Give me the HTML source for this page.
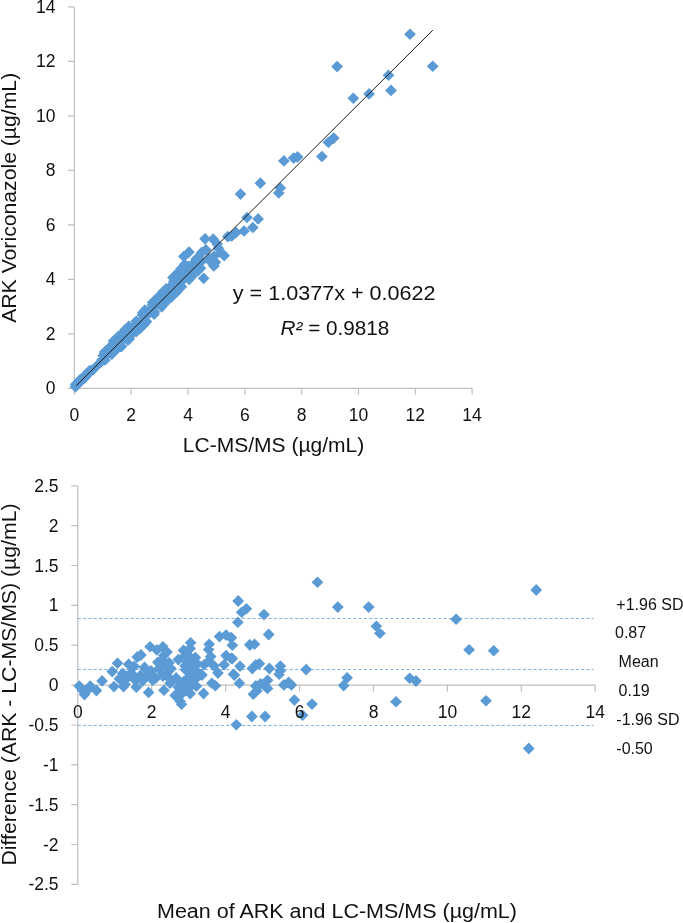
<!DOCTYPE html>
<html><head><meta charset="utf-8"><title>Chart</title>
<style>html,body{margin:0;padding:0;background:#fff;}body{width:683px;height:923px;overflow:hidden;font-family:"Liberation Sans",sans-serif;}</style>
</head><body>
<svg width="683" height="923" viewBox="0 0 683 923" style="display:block">
<rect width="683" height="923" fill="#fff"/>
<g style="opacity:0.999">
<path d="M74.4 6.9V388.3H472.1M67.9 388.3H74.4M74.4 388.3V394.8M67.9 333.8H74.4M131.2 388.3V394.8M67.9 279.3H74.4M188.0 388.3V394.8M67.9 224.9H74.4M244.9 388.3V394.8M67.9 170.4H74.4M301.7 388.3V394.8M67.9 115.9H74.4M358.5 388.3V394.8M67.9 61.4H74.4M415.3 388.3V394.8M67.9 6.9H74.4M472.1 388.3V394.8" fill="none" stroke="#BFBFBF" stroke-width="1.2"/>
<path d="M410.0 28.4L415.9 34.2L410.0 40.1L404.1 34.2ZM337.1 60.7L343.0 66.6L337.1 72.4L331.2 66.6ZM432.7 60.4L438.6 66.3L432.7 72.1L426.8 66.3ZM388.5 69.4L394.4 75.2L388.5 81.0L382.6 75.2ZM391.0 84.6L396.9 90.4L391.0 96.2L385.1 90.4ZM369.1 88.1L375.0 93.9L369.1 99.8L363.2 93.9ZM353.3 92.4L359.2 98.2L353.3 104.0L347.4 98.2ZM333.7 132.2L339.6 138.1L333.7 143.9L327.8 138.1ZM328.4 136.5L334.2 142.3L328.4 148.2L322.5 142.3ZM321.9 150.7L327.8 156.5L321.9 162.3L316.0 156.5ZM297.6 151.1L303.5 156.9L297.6 162.8L291.8 156.9ZM293.6 152.2L299.5 158.1L293.6 163.9L287.8 158.1ZM283.9 155.1L289.8 160.9L283.9 166.8L278.0 160.9ZM260.4 177.3L266.2 183.2L260.4 189.0L254.5 183.2ZM280.4 182.2L286.2 188.0L280.4 193.8L274.5 188.0ZM278.8 187.1L284.7 192.9L278.8 198.8L272.9 192.9ZM240.5 188.2L246.3 194.1L240.5 199.9L234.7 194.1ZM247.0 211.7L252.8 217.5L247.0 223.3L241.2 217.5ZM258.1 213.1L264.0 218.9L258.1 224.8L252.3 218.9ZM252.8 221.7L258.7 227.5L252.8 233.3L247.0 227.5ZM244.1 225.2L249.9 231.0L244.1 236.8L238.2 231.0ZM236.1 226.7L241.9 232.5L236.1 238.3L230.2 232.5ZM231.8 230.2L237.7 236.0L231.8 241.8L226.0 236.0ZM227.8 230.8L233.7 236.6L227.8 242.4L222.0 236.6ZM205.1 233.0L210.9 238.8L205.1 244.7L199.2 238.8ZM213.2 233.3L219.0 239.2L213.2 245.0L207.3 239.2ZM189.0 246.2L194.8 252.0L189.0 257.9L183.2 252.0ZM183.9 250.5L189.8 256.4L183.9 262.2L178.1 256.4ZM201.5 246.8L207.3 252.7L201.5 258.6L195.7 252.7ZM205.9 244.0L211.8 249.8L205.9 255.7L200.1 249.8ZM218.3 242.5L224.2 248.3L218.3 254.2L212.5 248.3ZM220.5 246.2L226.3 252.0L220.5 257.9L214.7 252.0ZM224.2 249.8L230.0 255.6L224.2 261.4L218.3 255.6ZM213.9 250.5L219.8 256.4L213.9 262.2L208.1 256.4ZM209.5 252.8L215.3 258.6L209.5 264.5L203.7 258.6ZM215.4 256.3L221.2 262.2L215.4 268.1L209.6 262.2ZM213.9 260.0L219.8 265.9L213.9 271.8L208.1 265.9ZM203.7 272.4L209.5 278.3L203.7 284.2L197.8 278.3ZM197.8 262.2L203.7 268.1L197.8 274.0L192.0 268.1ZM194.2 265.8L200.0 271.7L194.2 277.6L188.3 271.7ZM184.6 258.5L190.4 264.4L184.6 270.2L178.8 264.4ZM181.0 262.9L186.8 268.8L181.0 274.7L175.2 268.8ZM217.2 238.2L223.0 244.1L217.2 249.9L211.3 244.1ZM210.5 255.7L216.3 261.5L210.5 267.4L204.7 261.5ZM177.3 267.3L183.2 273.2L177.3 279.1L171.5 273.2ZM172.9 271.8L178.8 277.6L172.9 283.5L167.1 277.6ZM178.8 276.1L184.7 282.0L178.8 287.9L173.0 282.0ZM174.4 281.9L180.2 287.8L174.4 293.7L168.6 287.8ZM171.5 287.8L177.3 293.7L171.5 299.6L165.7 293.7ZM75.5 381.0L81.3 386.8L75.5 392.7L69.6 386.8ZM75.6 378.6L81.5 384.4L75.6 390.3L69.8 384.4ZM77.9 378.4L83.8 384.2L77.9 390.1L72.1 384.2ZM78.3 376.2L84.1 382.1L78.3 387.9L72.4 382.1ZM80.0 375.4L85.8 381.3L80.0 387.1L74.1 381.3ZM80.5 373.5L86.4 379.3L80.5 385.2L74.7 379.3ZM82.6 373.1L88.4 378.9L82.6 384.8L76.7 378.9ZM84.4 372.4L90.2 378.2L84.4 384.1L78.5 378.2ZM84.5 370.0L90.4 375.9L84.5 381.7L78.7 375.9ZM86.7 369.7L92.6 375.6L86.7 381.4L80.9 375.6ZM87.5 368.0L93.3 373.8L87.5 379.7L81.6 373.8ZM88.2 366.2L94.0 372.1L88.2 377.9L82.3 372.1ZM89.4 364.9L95.2 370.8L89.4 376.6L83.5 370.8ZM91.4 364.5L97.3 370.3L91.4 376.2L85.6 370.3ZM93.2 363.7L99.0 369.6L93.2 375.4L87.3 369.6ZM98.9 357.9L104.8 363.7L98.9 369.6L93.1 363.7ZM100.2 356.7L106.1 362.5L100.2 368.4L94.4 362.5ZM101.6 355.6L107.5 361.5L101.6 367.3L95.8 361.5ZM102.3 353.7L108.1 359.6L102.3 365.4L96.4 359.6ZM105.1 354.1L110.9 359.9L105.1 365.8L99.2 359.9ZM103.1 349.6L109.0 355.5L103.1 361.3L97.3 355.5ZM105.2 349.2L111.0 355.0L105.2 360.9L99.3 355.0ZM104.7 346.2L110.5 352.0L104.7 357.9L98.8 352.0ZM105.9 345.0L111.8 350.8L105.9 356.7L100.1 350.8ZM111.8 348.4L117.7 354.2L111.8 360.1L106.0 354.2ZM108.6 342.6L114.4 348.5L108.6 354.3L102.7 348.5ZM111.4 342.9L117.2 348.7L111.4 354.6L105.5 348.7ZM113.5 342.6L119.4 348.4L113.5 354.3L107.7 348.4ZM116.8 343.3L122.6 349.2L116.8 355.0L110.9 349.2ZM113.7 337.7L119.5 343.6L113.7 349.4L107.8 343.6ZM113.6 335.1L119.4 341.0L113.6 346.8L107.7 341.0ZM121.5 340.6L127.3 346.4L121.5 352.3L115.6 346.4ZM119.9 336.5L125.8 342.4L119.9 348.2L114.1 342.4ZM120.3 334.4L126.2 340.3L120.3 346.1L114.5 340.3ZM118.7 330.3L124.5 336.1L118.7 342.0L112.8 336.1ZM120.8 329.9L126.7 335.8L120.8 341.6L115.0 335.8ZM127.8 334.4L133.7 340.3L127.8 346.1L122.0 340.3ZM129.1 333.3L135.0 339.1L129.1 345.0L123.3 339.1ZM129.3 331.0L135.2 336.8L129.3 342.7L123.5 336.8ZM124.9 324.1L130.8 329.9L124.9 335.8L119.1 329.9ZM126.4 323.0L132.3 328.9L126.4 334.7L120.6 328.9ZM132.9 327.1L138.8 332.9L132.9 338.8L127.1 332.9ZM128.8 320.5L134.7 326.3L128.8 332.2L123.0 326.3ZM136.4 325.6L142.2 331.4L136.4 337.3L130.5 331.4ZM135.0 321.6L140.8 327.5L135.0 333.3L129.1 327.5ZM135.1 319.2L140.9 325.1L135.1 330.9L129.2 325.1ZM140.5 322.2L146.3 328.0L140.5 333.9L134.6 328.0ZM136.2 315.4L142.0 321.2L136.2 327.1L130.3 321.2ZM142.0 318.7L147.9 324.6L142.0 330.4L136.2 324.6ZM144.3 318.5L150.1 324.3L144.3 330.2L138.4 324.3ZM142.3 314.0L148.1 319.8L142.3 325.7L136.4 319.8ZM146.5 315.7L152.3 321.5L146.5 327.4L140.6 321.5ZM142.3 309.0L148.2 314.9L142.3 320.7L136.5 314.9ZM142.7 306.9L148.6 312.8L142.7 318.6L136.9 312.8ZM146.3 308.0L152.2 313.9L146.3 319.7L140.5 313.9ZM145.0 304.2L150.8 310.0L145.0 315.9L139.1 310.0ZM149.9 306.7L155.8 312.5L149.9 318.4L144.1 312.5ZM154.1 308.4L160.0 314.2L154.1 320.1L148.3 314.2ZM154.4 306.1L160.2 312.0L154.4 317.8L148.5 312.0ZM152.7 301.9L158.5 307.8L152.7 313.6L146.8 307.8ZM152.4 299.2L158.3 305.0L152.4 310.9L146.6 305.0ZM152.5 296.8L158.4 302.6L152.5 308.5L146.7 302.6ZM153.7 295.5L159.6 301.4L153.7 307.2L147.9 301.4ZM161.7 301.0L167.5 306.8L161.7 312.7L155.8 306.8ZM161.6 298.4L167.5 304.3L161.6 310.1L155.8 304.3ZM161.1 295.4L166.9 301.2L161.1 307.1L155.2 301.2ZM158.8 290.6L164.6 296.4L158.8 302.3L152.9 296.4ZM166.4 295.7L172.2 301.5L166.4 307.4L160.5 301.5ZM162.3 289.1L168.1 295.0L162.3 300.8L156.4 295.0ZM165.2 289.5L171.0 295.4L165.2 301.2L159.3 295.4ZM163.6 285.4L169.4 291.2L163.6 297.1L157.7 291.2ZM171.6 291.0L177.5 296.8L171.6 302.7L165.8 296.8ZM166.1 282.9L171.9 288.7L166.1 294.6L160.2 288.7ZM170.9 285.3L176.8 291.1L170.9 297.0L165.1 291.1ZM171.5 283.3L177.3 289.2L171.5 295.0L165.6 289.2ZM176.8 286.1L182.6 292.0L176.8 297.8L170.9 292.0ZM172.1 279.0L178.0 284.9L172.1 290.7L166.3 284.9ZM178.1 282.5L183.9 288.3L178.1 294.2L172.2 288.3ZM173.8 275.7L179.6 281.5L173.8 287.4L167.9 281.5ZM181.5 280.9L187.4 286.7L181.5 292.6L175.7 286.7ZM178.7 275.6L184.6 281.5L178.7 287.3L172.9 281.5ZM177.6 272.0L183.5 277.9L177.6 283.7L171.8 277.9ZM182.6 274.5L188.4 280.3L182.6 286.2L176.7 280.3ZM180.1 269.5L185.9 275.3L180.1 281.2L174.2 275.3ZM182.1 269.0L187.9 274.9L182.1 280.7L176.2 274.9ZM189.1 273.5L194.9 279.4L189.1 285.2L183.2 279.4ZM189.4 271.3L195.3 277.2L189.4 283.0L183.6 277.2ZM191.5 270.9L197.3 276.8L191.5 282.6L185.6 276.8ZM189.1 266.0L194.9 271.9L189.1 277.7L183.2 271.9ZM187.6 262.0L193.4 267.9L187.6 273.7L181.7 267.9ZM188.6 260.6L194.5 266.4L188.6 272.3L182.8 266.4ZM195.7 265.2L201.6 271.0L195.7 276.9L189.9 271.0ZM198.0 265.0L203.9 270.8L198.0 276.7L192.2 270.8ZM193.3 257.8L199.2 263.6L193.3 269.5L187.5 263.6ZM200.4 262.4L206.3 268.3L200.4 274.1L194.6 268.3ZM198.5 258.0L204.4 263.8L198.5 269.7L192.7 263.8ZM196.2 253.2L202.0 259.0L196.2 264.9L190.3 259.0ZM201.3 255.8L207.1 261.6L201.3 267.5L195.4 261.6ZM198.8 250.8L204.6 256.6L198.8 262.5L192.9 256.6Z" fill="#5B9BD5"/>
<line x1="76.4" y1="385.6" x2="432.9" y2="30.1" stroke="#1a1a1a" stroke-width="1"/>
<text x="55.5" y="394.3" font-size="17.5" text-anchor="end" font-family="Liberation Sans, sans-serif" fill="#111">0</text>
<text x="74.4" y="421.3" font-size="17.5" text-anchor="middle" font-family="Liberation Sans, sans-serif" fill="#111">0</text>
<text x="55.5" y="339.8" font-size="17.5" text-anchor="end" font-family="Liberation Sans, sans-serif" fill="#111">2</text>
<text x="131.2" y="421.3" font-size="17.5" text-anchor="middle" font-family="Liberation Sans, sans-serif" fill="#111">2</text>
<text x="55.5" y="285.3" font-size="17.5" text-anchor="end" font-family="Liberation Sans, sans-serif" fill="#111">4</text>
<text x="188.0" y="421.3" font-size="17.5" text-anchor="middle" font-family="Liberation Sans, sans-serif" fill="#111">4</text>
<text x="55.5" y="230.9" font-size="17.5" text-anchor="end" font-family="Liberation Sans, sans-serif" fill="#111">6</text>
<text x="244.9" y="421.3" font-size="17.5" text-anchor="middle" font-family="Liberation Sans, sans-serif" fill="#111">6</text>
<text x="55.5" y="176.4" font-size="17.5" text-anchor="end" font-family="Liberation Sans, sans-serif" fill="#111">8</text>
<text x="301.7" y="421.3" font-size="17.5" text-anchor="middle" font-family="Liberation Sans, sans-serif" fill="#111">8</text>
<text x="55.5" y="121.9" font-size="17.5" text-anchor="end" font-family="Liberation Sans, sans-serif" fill="#111">10</text>
<text x="358.5" y="421.3" font-size="17.5" text-anchor="middle" font-family="Liberation Sans, sans-serif" fill="#111">10</text>
<text x="55.5" y="67.4" font-size="17.5" text-anchor="end" font-family="Liberation Sans, sans-serif" fill="#111">12</text>
<text x="415.3" y="421.3" font-size="17.5" text-anchor="middle" font-family="Liberation Sans, sans-serif" fill="#111">12</text>
<text x="55.5" y="12.9" font-size="17.5" text-anchor="end" font-family="Liberation Sans, sans-serif" fill="#111">14</text>
<text x="472.1" y="421.3" font-size="17.5" text-anchor="middle" font-family="Liberation Sans, sans-serif" fill="#111">14</text>
<text transform="translate(16.2 322.8) rotate(-90)" font-size="20" textLength="250" lengthAdjust="spacingAndGlyphs" font-family="Liberation Sans, sans-serif" fill="#111">ARK Voriconazole (µg/mL)</text>
<text x="182.8" y="452" font-size="20" textLength="181.5" lengthAdjust="spacingAndGlyphs" font-family="Liberation Sans, sans-serif" fill="#111">LC-MS/MS (µg/mL)</text>
<text x="232.8" y="299.6" font-size="20" textLength="202.7" lengthAdjust="spacingAndGlyphs" xml:space="preserve" font-family="Liberation Sans, sans-serif" fill="#111">y = 1.0377x + 0.0622</text>
<text x="280.6" y="335" font-size="20" textLength="108.8" lengthAdjust="spacingAndGlyphs" xml:space="preserve" font-family="Liberation Sans, sans-serif" fill="#111"><tspan font-style="italic">R²</tspan> = 0.9818</text>
<path d="M77.8 485.9V884.4M77.8 685.1H595.2M71.3 884.4H77.8M71.3 844.5H77.8M71.3 804.7H77.8M71.3 764.8H77.8M71.3 725.0H77.8M71.3 685.1H77.8M71.3 645.2H77.8M71.3 605.4H77.8M71.3 565.5H77.8M71.3 525.7H77.8M71.3 485.9H77.8M77.8 685.1V691.6M151.7 685.1V691.6M225.6 685.1V691.6M299.6 685.1V691.6M373.5 685.1V691.6M447.4 685.1V691.6M521.3 685.1V691.6M595.2 685.1V691.6" fill="none" stroke="#BFBFBF" stroke-width="1.2"/>
<line x1="77.8" y1="618.5" x2="593.5" y2="618.5" stroke="#7DB1E3" stroke-width="1" stroke-dasharray="3 2.3"/>
<line x1="77.8" y1="669.5" x2="593.5" y2="669.5" stroke="#7DB1E3" stroke-width="1" stroke-dasharray="3 2.3"/>
<line x1="77.8" y1="725.5" x2="593.5" y2="725.5" stroke="#7DB1E3" stroke-width="1" stroke-dasharray="3 2.3"/>
<path d="M79.2 680.2L85.0 686.1L79.2 692.0L73.4 686.1ZM84.5 688.6L90.3 694.5L84.5 700.4L78.7 694.5ZM90.2 680.2L96.0 686.1L90.2 692.0L84.4 686.1ZM96.4 684.6L102.2 690.5L96.4 696.4L90.6 690.5ZM102.1 675.0L107.9 680.9L102.1 686.8L96.2 680.9ZM112.2 665.8L118.0 671.6L112.2 677.5L106.4 671.6ZM117.5 657.4L123.3 663.3L117.5 669.1L111.7 663.3ZM113.9 680.8L119.8 686.6L113.9 692.5L108.1 686.6ZM119.2 672.9L125.0 678.7L119.2 684.6L113.4 678.7ZM123.6 680.8L129.4 686.6L123.6 692.5L117.8 686.6ZM122.7 667.5L128.6 673.4L122.7 679.2L116.9 673.4ZM82.3 684.1L88.1 690.0L82.3 695.9L76.5 690.0ZM87.6 684.1L93.4 690.0L87.6 695.9L81.8 690.0ZM150.1 640.9L155.9 646.8L150.1 652.6L144.2 646.8ZM156.8 644.0L162.7 649.9L156.8 655.8L151.0 649.9ZM162.9 640.9L168.8 646.8L162.9 652.6L157.1 646.8ZM167.0 646.0L172.8 651.9L167.0 657.8L161.2 651.9ZM140.9 649.1L146.8 655.0L140.9 660.9L135.1 655.0ZM137.3 651.1L143.2 657.0L137.3 662.9L131.5 657.0ZM128.6 658.4L134.4 664.2L128.6 670.1L122.8 664.2ZM134.2 660.4L140.0 666.3L134.2 672.1L128.3 666.3ZM157.8 656.4L163.7 662.2L157.8 668.1L152.0 662.2ZM161.9 653.8L167.8 659.6L161.9 665.5L156.1 659.6ZM151.1 665.0L156.9 670.9L151.1 676.8L145.2 670.9ZM127.0 672.1L132.8 678.0L127.0 683.9L121.2 678.0ZM135.2 674.2L141.0 680.1L135.2 686.0L129.3 680.1ZM140.4 669.6L146.2 675.5L140.4 681.4L134.6 675.5ZM136.3 681.4L142.2 687.3L136.3 693.1L130.5 687.3ZM125.0 678.4L130.8 684.2L125.0 690.1L119.2 684.2ZM152.7 674.2L158.5 680.1L152.7 686.0L146.8 680.1ZM148.6 686.5L154.4 692.4L148.6 698.2L142.8 692.4ZM162.9 670.1L168.8 676.0L162.9 681.9L157.1 676.0ZM163.9 684.4L169.8 690.3L163.9 696.1L158.1 690.3ZM170.1 677.4L175.9 683.2L170.1 689.1L164.2 683.2ZM175.2 689.6L181.0 695.5L175.2 701.4L169.3 695.5ZM180.3 695.8L186.2 701.6L180.3 707.5L174.5 701.6ZM185.5 684.4L191.3 690.3L185.5 696.1L179.7 690.3ZM178.3 681.4L184.2 687.3L178.3 693.1L172.5 687.3ZM171.1 662.9L176.9 668.8L171.1 674.6L165.2 668.8ZM169.1 656.9L174.9 662.7L169.1 668.6L163.2 662.7ZM178.3 653.8L184.2 659.6L178.3 665.5L172.5 659.6ZM183.4 644.5L189.2 650.4L183.4 656.2L177.6 650.4ZM190.6 636.9L196.4 642.7L190.6 648.6L184.8 642.7ZM188.5 649.6L194.3 655.5L188.5 661.4L182.7 655.5ZM192.6 659.9L198.4 665.7L192.6 671.6L186.8 665.7ZM190.6 670.1L196.4 676.0L190.6 681.9L184.8 676.0ZM185.5 663.9L191.3 669.8L185.5 675.6L179.7 669.8ZM176.2 672.1L182.0 678.0L176.2 683.9L170.3 678.0ZM192.6 678.4L198.4 684.2L192.6 690.1L186.8 684.2ZM168.0 666.0L173.8 671.9L168.0 677.8L162.2 671.9ZM131.1 667.0L136.9 672.9L131.1 678.8L125.2 672.9ZM142.4 675.2L148.2 681.1L142.4 687.0L136.6 681.1ZM155.7 672.1L161.5 678.0L155.7 683.9L149.8 678.0ZM158.8 662.9L164.7 668.8L158.8 674.6L153.0 668.8ZM169.1 672.1L174.9 678.0L169.1 683.9L163.2 678.0ZM163.9 649.6L169.8 655.5L163.9 661.4L158.1 655.5ZM166.0 659.9L171.8 665.7L166.0 671.6L160.2 665.7ZM147.0 669.6L152.8 675.5L147.0 681.4L141.2 675.5ZM144.5 661.6L150.3 667.5L144.5 673.4L138.7 667.5ZM190.2 642.5L196.0 648.4L190.2 654.2L184.3 648.4ZM185.1 645.6L190.9 651.5L185.1 657.4L179.2 651.5ZM209.2 638.4L215.0 644.3L209.2 650.1L203.3 644.3ZM208.7 643.5L214.5 649.4L208.7 655.2L202.8 649.4ZM219.5 630.8L225.3 636.6L219.5 642.5L213.7 636.6ZM226.1 629.2L231.9 635.1L226.1 641.0L220.2 635.1ZM231.2 631.8L237.0 637.6L231.2 643.5L225.3 637.6ZM232.3 639.4L238.2 645.3L232.3 651.1L226.5 645.3ZM249.7 638.9L255.5 644.8L249.7 650.6L243.8 644.8ZM226.1 649.8L231.9 655.6L226.1 661.5L220.2 655.6ZM232.3 652.8L238.2 658.6L232.3 664.5L226.5 658.6ZM240.0 660.4L245.8 666.3L240.0 672.1L234.2 666.3ZM224.1 658.9L229.9 664.8L224.1 670.6L218.2 664.8ZM210.7 650.8L216.5 656.6L210.7 662.5L204.8 656.6ZM208.7 655.4L214.5 661.2L208.7 667.1L202.8 661.2ZM213.8 659.9L219.7 665.8L213.8 671.6L208.0 665.8ZM217.9 667.1L223.8 673.0L217.9 678.9L212.1 673.0ZM234.3 669.1L240.2 675.0L234.3 680.9L228.5 675.0ZM239.4 677.4L245.2 683.2L239.4 689.1L233.6 683.2ZM211.8 677.4L217.7 683.2L211.8 689.1L206.0 683.2ZM215.4 679.9L221.2 685.8L215.4 691.6L209.6 685.8ZM203.6 687.6L209.4 693.5L203.6 699.4L197.8 693.5ZM195.4 651.8L201.2 657.6L195.4 663.5L189.6 657.6ZM190.2 654.9L196.0 660.7L190.2 666.6L184.3 660.7ZM197.4 657.9L203.2 663.8L197.4 669.6L191.6 663.8ZM185.1 659.9L190.9 665.8L185.1 671.6L179.2 665.8ZM192.3 664.0L198.2 669.9L192.3 675.8L186.5 669.9ZM198.4 667.1L204.2 673.0L198.4 678.9L192.6 673.0ZM202.0 669.1L207.8 675.0L202.0 680.9L196.2 675.0ZM195.4 673.2L201.2 679.1L195.4 685.0L189.6 679.1ZM189.2 671.2L195.0 677.1L189.2 683.0L183.3 677.1ZM196.4 680.4L202.2 686.3L196.4 692.1L190.6 686.3ZM190.2 678.4L196.0 684.3L190.2 690.1L184.3 684.3ZM184.1 675.4L189.9 681.2L184.1 687.1L178.2 681.2ZM186.1 684.5L191.9 690.4L186.1 696.2L180.2 690.4ZM181.0 688.6L186.8 694.5L181.0 700.4L175.2 694.5ZM183.1 651.8L188.9 657.6L183.1 663.5L177.2 657.6ZM181.5 698.4L187.3 704.2L181.5 710.1L175.7 704.2ZM204.1 658.9L209.9 664.8L204.1 670.6L198.2 664.8ZM190.2 687.6L196.0 693.5L190.2 699.4L184.3 693.5ZM237.8 616.4L243.7 622.2L237.8 628.1L232.0 622.2ZM238.2 595.1L244.0 601.0L238.2 606.9L232.3 601.0ZM246.4 602.9L252.2 608.7L246.4 614.6L240.6 608.7ZM241.7 606.4L247.5 612.3L241.7 618.1L235.8 612.3ZM264.0 608.8L269.9 614.6L264.0 620.5L258.1 614.6ZM268.7 628.6L274.6 634.5L268.7 640.4L262.8 634.5ZM231.2 632.1L237.0 638.0L231.2 643.9L225.3 638.0ZM254.6 638.4L260.4 644.3L254.6 650.1L248.8 644.3ZM249.9 639.1L255.8 645.0L249.9 650.9L244.1 645.0ZM231.2 652.5L237.0 658.4L231.2 664.2L225.3 658.4ZM252.3 662.6L258.2 668.5L252.3 674.4L246.5 668.5ZM255.8 659.1L261.7 665.0L255.8 670.9L250.0 665.0ZM259.3 657.9L265.2 663.8L259.3 669.6L253.5 663.8ZM269.4 662.6L275.2 668.5L269.4 674.4L263.5 668.5ZM280.4 660.2L286.2 666.1L280.4 672.0L274.5 666.1ZM280.4 664.9L286.2 670.8L280.4 676.6L274.5 670.8ZM279.2 668.4L285.1 674.3L279.2 680.1L273.3 674.3ZM306.1 663.8L312.0 669.6L306.1 675.5L300.2 669.6ZM233.5 668.4L239.3 674.3L233.5 680.1L227.7 674.3ZM255.8 680.1L261.7 686.0L255.8 691.9L250.0 686.0ZM260.5 677.9L266.4 683.7L260.5 689.6L254.7 683.7ZM267.5 674.4L273.4 680.2L267.5 686.1L261.6 680.2ZM265.1 680.1L271.0 686.0L265.1 691.9L259.2 686.0ZM267.5 682.5L273.4 688.4L267.5 694.2L261.6 688.4ZM256.9 684.9L262.8 690.7L256.9 696.6L251.0 690.7ZM253.4 688.4L259.2 694.2L253.4 700.1L247.6 694.2ZM283.9 679.0L289.8 684.9L283.9 690.8L278.0 684.9ZM288.6 676.6L294.5 682.5L288.6 688.4L282.8 682.5ZM291.4 679.0L297.2 684.9L291.4 690.8L285.5 684.9ZM294.4 694.2L300.2 700.1L294.4 706.0L288.5 700.1ZM312.0 698.2L317.9 704.1L312.0 710.0L306.1 704.1ZM302.6 709.4L308.5 715.3L302.6 721.1L296.8 715.3ZM251.8 710.6L257.7 716.5L251.8 722.4L246.0 716.5ZM265.1 710.6L271.0 716.5L265.1 722.4L259.2 716.5ZM236.3 718.9L242.2 724.7L236.3 730.6L230.5 724.7ZM337.8 601.2L343.7 607.1L337.8 613.0L331.9 607.1ZM368.7 601.2L374.6 607.1L368.7 613.0L362.8 607.1ZM376.4 620.4L382.2 626.3L376.4 632.1L370.5 626.3ZM379.9 627.4L385.8 633.3L379.9 639.1L374.0 633.3ZM347.1 671.9L353.0 677.8L347.1 683.6L341.2 677.8ZM343.6 679.8L349.5 685.6L343.6 691.5L337.8 685.6ZM536.2 584.1L542.1 590.0L536.2 595.9L530.4 590.0ZM317.5 576.4L323.4 582.2L317.5 588.1L311.6 582.2ZM456.1 613.4L462.0 619.2L456.1 625.1L450.2 619.2ZM469.1 643.9L475.0 649.8L469.1 655.6L463.2 649.8ZM493.7 644.9L499.6 650.8L493.7 656.6L487.8 650.8ZM409.7 672.4L415.6 678.2L409.7 684.1L403.8 678.2ZM416.0 675.1L421.9 681.0L416.0 686.9L410.1 681.0ZM396.0 695.9L401.9 701.8L396.0 707.6L390.1 701.8ZM486.0 694.9L491.9 700.7L486.0 706.6L480.1 700.7ZM528.8 742.6L534.6 748.5L528.8 754.4L522.9 748.5Z" fill="#5B9BD5"/>
<text x="58.6" y="890.4" font-size="17.5" text-anchor="end" font-family="Liberation Sans, sans-serif" fill="#111">-2.5</text>
<text x="58.6" y="850.5" font-size="17.5" text-anchor="end" font-family="Liberation Sans, sans-serif" fill="#111">-2</text>
<text x="58.6" y="810.7" font-size="17.5" text-anchor="end" font-family="Liberation Sans, sans-serif" fill="#111">-1.5</text>
<text x="58.6" y="770.8" font-size="17.5" text-anchor="end" font-family="Liberation Sans, sans-serif" fill="#111">-1</text>
<text x="58.6" y="731.0" font-size="17.5" text-anchor="end" font-family="Liberation Sans, sans-serif" fill="#111">-0.5</text>
<text x="58.6" y="691.1" font-size="17.5" text-anchor="end" font-family="Liberation Sans, sans-serif" fill="#111">0</text>
<text x="58.6" y="651.2" font-size="17.5" text-anchor="end" font-family="Liberation Sans, sans-serif" fill="#111">0.5</text>
<text x="58.6" y="611.4" font-size="17.5" text-anchor="end" font-family="Liberation Sans, sans-serif" fill="#111">1</text>
<text x="58.6" y="571.5" font-size="17.5" text-anchor="end" font-family="Liberation Sans, sans-serif" fill="#111">1.5</text>
<text x="58.6" y="531.7" font-size="17.5" text-anchor="end" font-family="Liberation Sans, sans-serif" fill="#111">2</text>
<text x="58.6" y="491.9" font-size="17.5" text-anchor="end" font-family="Liberation Sans, sans-serif" fill="#111">2.5</text>
<text x="77.8" y="717.5" font-size="17.5" text-anchor="middle" font-family="Liberation Sans, sans-serif" fill="#111">0</text>
<text x="151.7" y="717.5" font-size="17.5" text-anchor="middle" font-family="Liberation Sans, sans-serif" fill="#111">2</text>
<text x="225.6" y="717.5" font-size="17.5" text-anchor="middle" font-family="Liberation Sans, sans-serif" fill="#111">4</text>
<text x="299.6" y="717.5" font-size="17.5" text-anchor="middle" font-family="Liberation Sans, sans-serif" fill="#111">6</text>
<text x="373.5" y="717.5" font-size="17.5" text-anchor="middle" font-family="Liberation Sans, sans-serif" fill="#111">8</text>
<text x="447.4" y="717.5" font-size="17.5" text-anchor="middle" font-family="Liberation Sans, sans-serif" fill="#111">10</text>
<text x="521.3" y="717.5" font-size="17.5" text-anchor="middle" font-family="Liberation Sans, sans-serif" fill="#111">12</text>
<text x="595.2" y="717.5" font-size="17.5" text-anchor="middle" font-family="Liberation Sans, sans-serif" fill="#111">14</text>
<text transform="translate(16.3 865.5) rotate(-90)" font-size="20" textLength="362" lengthAdjust="spacingAndGlyphs" font-family="Liberation Sans, sans-serif" fill="#111">Difference (ARK - LC-MS/MS) (µg/mL)</text>
<text x="157" y="917.5" font-size="20" textLength="360" lengthAdjust="spacingAndGlyphs" font-family="Liberation Sans, sans-serif" fill="#111">Mean of ARK and LC-MS/MS (µg/mL)</text>
<text x="616.3" y="609.8" font-size="16" font-family="Liberation Sans, sans-serif" fill="#111">+1.96 SD</text>
<text x="615" y="638.4" font-size="16" font-family="Liberation Sans, sans-serif" fill="#111">0.87</text>
<text x="618.6" y="667" font-size="16" font-family="Liberation Sans, sans-serif" fill="#111">Mean</text>
<text x="618.6" y="695.6" font-size="16" font-family="Liberation Sans, sans-serif" fill="#111">0.19</text>
<text x="616.3" y="724.9" font-size="16" font-family="Liberation Sans, sans-serif" fill="#111">-1.96 SD</text>
<text x="616.3" y="753.5" font-size="16" font-family="Liberation Sans, sans-serif" fill="#111">-0.50</text>
</g></svg>
</body></html>
